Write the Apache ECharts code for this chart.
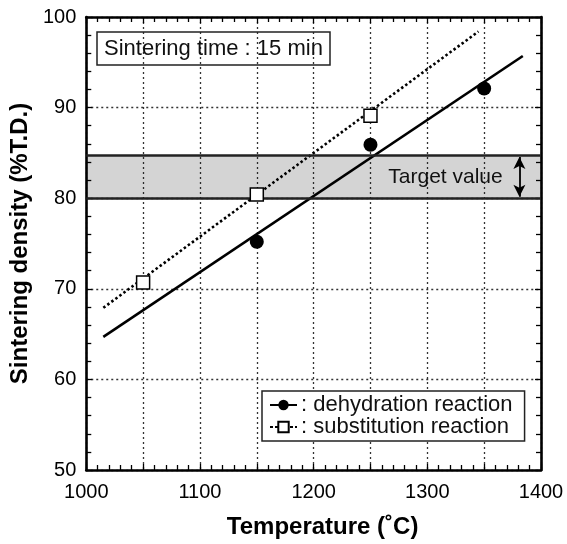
<!DOCTYPE html>
<html>
<head>
<meta charset="utf-8">
<script src="https://cdn.jsdelivr.net/npm/echarts@6/dist/echarts.min.js"></script>
<style>html,body{margin:0;padding:0;background:#fff}#c{width:567px;height:544px}</style>
</head>
<body>
<div id="c"></div>
<script>
// Data
const dehydTemps = [1150, 1250, 1350];
const dehydDensity = [75.2, 85.9, 92.1];
const substTemps = [1050, 1150, 1250];
const substDensity = [70.7, 80.4, 89.1];
// fitted lines (end points)
const dehydFitTemps = [1015, 1384];
const dehydFitDensity = [64.7, 95.7];
const substFitTemps = [1015, 1345];
const substFitDensity = [67.9, 98.4];
// target band
const targetRange = [80, 84.7];
const targetArrowTemp = 1381;
const targetLabelPos = [1316, 82.3];
const targetLabel = 'Target value';
const timeNote = 'Sintering time : 15 min';
const legendNames = [': dehydration reaction', ': substitution reaction'];
const xName = 'Temperature (˚C)';
const yName = 'Sintering density (%T.D.)';

const FONT = '"Liberation Sans", Arial, Helvetica, sans-serif';
const zip = (a, b) => a.map((v, i) => [v, b[i]]);

function axisCommon(show) {
  return {
    axisLine: {show: true, onZero: false, lineStyle: {color: '#000', width: 2.6}},
    axisTick: {show: true, inside: true, length: 6, lineStyle: {color: '#000', width: 1.3}},
    minorTick: {show: true, splitNumber: 5, length: 5, lineStyle: {color: '#000', width: 1.3}},
    axisLabel: {show: show, color: '#000', fontSize: 20, fontFamily: FONT}
  };
}

const chart = echarts.init(document.getElementById('c'), null, {renderer: 'canvas'});
chart.setOption({
  animation: false,
  backgroundColor: '#fff',
  title: {
    text: timeNote, left: 97, top: 32, padding: [6, 7, 5, 7],
    borderColor: '#222', borderWidth: 1.5,
    textStyle: {fontSize: 22, fontWeight: 'normal', color: '#111', fontFamily: FONT}
  },
  legend: {
    orient: 'vertical', left: 262, top: 391,
    padding: [3, 12, 3, 7], itemGap: 0,
    borderColor: '#222', borderWidth: 1.5, backgroundColor: '#fff',
    itemWidth: 27, itemHeight: 13,
    textStyle: {fontSize: 22, color: '#111', fontFamily: FONT, padding: [0, 0, 0, -1]},
    data: legendNames
  },
  grid: {left: 86, right: 26, top: 17, bottom: 71},
  xAxis: [
    Object.assign(axisCommon(true), {
      type: 'value', min: 1000, max: 1400, interval: 50, position: 'bottom',
      name: xName, nameLocation: 'middle', nameGap: 45,
      nameTextStyle: {fontSize: 24, fontWeight: 'bold', color: '#000', fontFamily: FONT, padding: [0, 0, 0, 18]},
      axisLabel: {show: true, color: '#000', fontSize: 20, fontFamily: FONT, margin: 12,
        formatter: v => (v % 100 === 0 ? String(v) : '')},
      splitLine: {show: true, lineStyle: {type: [2, 3], color: '#333', width: 1.3}}
    }),
    Object.assign(axisCommon(false), {
      type: 'value', min: 1000, max: 1400, interval: 50, position: 'top',
      splitLine: {show: false}
    })
  ],
  yAxis: [
    Object.assign(axisCommon(true), {
      type: 'value', min: 50, max: 100, interval: 10, position: 'left',
      name: yName, nameLocation: 'middle', nameGap: 49,
      nameTextStyle: {fontSize: 24, fontWeight: 'bold', color: '#000', fontFamily: FONT},
      axisLabel: {show: true, color: '#000', fontSize: 20, fontFamily: FONT, margin: 10},
      splitLine: {show: true, lineStyle: {type: [2, 3], color: '#333', width: 1.3}}
    }),
    Object.assign(axisCommon(false), {
      type: 'value', min: 50, max: 100, interval: 10, position: 'right',
      splitLine: {show: false}
    })
  ],
  series: [
    {
      name: 'band', type: 'line', data: [], z: 1, silent: true,
      markArea: {
        silent: true,
        itemStyle: {color: 'rgba(0,0,0,0.17)'},
        data: [[{yAxis: targetRange[0]}, {yAxis: targetRange[1]}]]
      },
      markLine: {
        silent: true, symbol: 'none', label: {show: false},
        lineStyle: {color: '#222', width: 2.5, type: 'solid'},
        data: [{yAxis: targetRange[0]}, {yAxis: targetRange[1]}]
      }
    },
    {
      name: 'arrow', type: 'line', data: [], z: 4, silent: true,
      markLine: {
        silent: true, symbol: ['arrow', 'arrow'], symbolSize: [9, 12], label: {show: false},
        lineStyle: {color: '#000', width: 1.8, type: 'solid'},
        data: [[{coord: [targetArrowTemp, targetRange[0] + 0.15]}, {coord: [targetArrowTemp, targetRange[1] - 0.15]}]]
      },
      markPoint: {
        silent: true, symbol: 'circle', symbolSize: 1,
        itemStyle: {color: 'rgba(0,0,0,0)'},
        label: {show: true, position: 'inside', formatter: targetLabel, fontSize: 21,
          color: '#111', textBorderWidth: 0, fontFamily: FONT, opacity: 1},
        data: [{coord: targetLabelPos}]
      }
    },
    {
      name: 'dehydFit', type: 'line', z: 3, symbol: 'none', silent: true,
      data: zip(dehydFitTemps, dehydFitDensity),
      lineStyle: {color: '#000', width: 2.6, type: 'solid'}
    },
    {
      name: 'substFit', type: 'line', z: 3, symbol: 'none', silent: true,
      data: zip(substFitTemps, substFitDensity),
      lineStyle: {color: '#000', width: 2.6, type: [2.5, 2.5]}
    },
    {
      name: 'dehydPts', type: 'scatter', z: 5, symbol: 'circle', symbolSize: 14,
      data: zip(dehydTemps, dehydDensity),
      itemStyle: {color: '#000', opacity: 1}
    },
    {
      name: 'substPts', type: 'scatter', z: 5, symbol: 'rect', symbolSize: 13,
      data: zip(substTemps, substDensity),
      itemStyle: {color: '#fff', borderColor: '#000', borderWidth: 1.5, opacity: 1}
    },
    {
      name: legendNames[0], type: 'line', data: [], symbol: 'circle', symbolSize: 13,
      itemStyle: {color: '#000'}, lineStyle: {color: '#000', width: 2}
    },
    {
      name: legendNames[1], type: 'line', data: [], symbol: 'rect', symbolSize: 12,
      itemStyle: {color: '#fff', borderColor: '#000', borderWidth: 1.3},
      lineStyle: {color: '#000', width: 1.5, type: [3, 2]}
    }
  ]
});
</script>
</body>
</html>
